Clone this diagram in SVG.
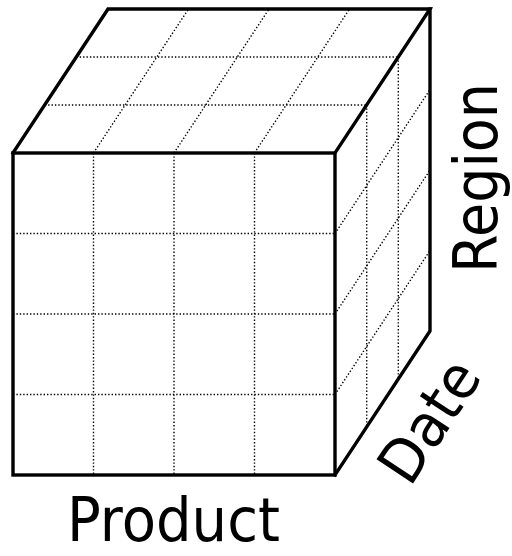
<svg xmlns="http://www.w3.org/2000/svg" width="512" height="556" viewBox="0 0 512 556">
  <style>
    .edge { fill: none; stroke: #000; stroke-width: 3.4; stroke-linejoin: miter; stroke-linecap: square; }
    .grid { fill: none; stroke: #000; stroke-width: 1.4; stroke-dasharray: 1.4 2; }
    .label { font-family: "DejaVu Sans", Verdana, sans-serif; font-size: 60px; fill: #000; }
  </style>
  <rect width="512" height="556" fill="#fff"/>

  <!-- cube cell grid (dotted) -->
  <g id="grid">
    <!-- front face: 4 x 4 cells -->
    <g id="front-grid">
      <line class="grid" x1="93.5" y1="153" x2="93.5" y2="475"/>
      <line class="grid" x1="174" y1="153" x2="174" y2="475"/>
      <line class="grid" x1="254.5" y1="153" x2="254.5" y2="475"/>
      <line class="grid" x1="13" y1="233.5" x2="335" y2="233.5"/>
      <line class="grid" x1="13" y1="314" x2="335" y2="314"/>
      <line class="grid" x1="13" y1="394.5" x2="335" y2="394.5"/>
    </g>
    <!-- top face: 4 x 3 cells -->
    <g id="top-grid">
      <line class="grid" x1="93.5" y1="153" x2="188.5" y2="9"/>
      <line class="grid" x1="174" y1="153" x2="269" y2="9"/>
      <line class="grid" x1="254.5" y1="153" x2="349.5" y2="9"/>
      <line class="grid" x1="44.7" y1="105" x2="366.7" y2="105"/>
      <line class="grid" x1="76.3" y1="57" x2="398.3" y2="57"/>
    </g>
    <!-- right face: 3 x 4 cells -->
    <g id="side-grid">
      <line class="grid" x1="366.7" y1="105" x2="366.7" y2="427"/>
      <line class="grid" x1="398.3" y1="57" x2="398.3" y2="379"/>
      <line class="grid" x1="335" y1="233.5" x2="430" y2="89.5"/>
      <line class="grid" x1="335" y1="314" x2="430" y2="170"/>
      <line class="grid" x1="335" y1="394.5" x2="430" y2="250.5"/>
    </g>
  </g>

  <!-- cube outline -->
  <g id="cube">
    <rect class="edge" x="13" y="153" width="322" height="322"/>
    <polyline class="edge" points="13,153 108,9 430,9 335,153"/>
    <polyline class="edge" points="430,9 430,331 335,475"/>
  </g>

  <!-- axis labels -->
  <g id="labels">
    <text id="product" class="label" x="67" y="541" textLength="213" lengthAdjust="spacingAndGlyphs">Product</text>
    <text id="region" class="label" transform="translate(497,273) rotate(-90)" textLength="190" lengthAdjust="spacingAndGlyphs">Region</text>
    <text id="date" class="label" transform="translate(410,488) rotate(-56.6)" textLength="133" lengthAdjust="spacingAndGlyphs">Date</text>
  </g>
</svg>
